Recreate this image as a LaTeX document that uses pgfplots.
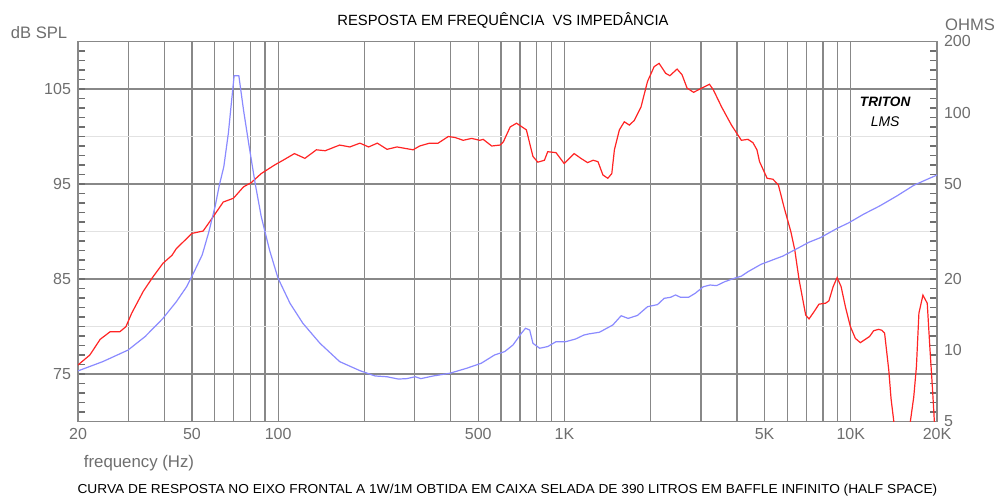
\documentclass[border=0pt]{standalone}
\usepackage{pgfplots}
\pgfplotsset{compat=1.18}
\usepackage{fontspec}
\setmainfont{Liberation Sans}
\definecolor{tickgray}{HTML}{6E6E6E}
\definecolor{gridgray}{HTML}{888888}
\definecolor{lightgrid}{HTML}{E2E2E2}
\definecolor{splred}{HTML}{FF2424}
\definecolor{impblue}{HTML}{8A8AFF}

\pgfplotstableread{
f db
20 75.95
22.0 77.0
23.9 78.65
25.9 79.45
28.0 79.45
29.4 79.98
30.8 81.4
33.8 83.7
36.6 85.25
39.6 86.65
42.6 87.5
44.1 88.2
50.0 89.8
54.7 90.05
59.3 91.55
64.3 93.1
69.8 93.5
75.7 94.7
80.6 95.15
87.3 96.1
97.2 97.0
104 97.5
114 98.2
124 97.7
136 98.6
146 98.5
164 99.1
178 98.9
193 99.3
207 98.9
222 99.3
240 98.65
260 98.9
296 98.6
312 99.0
338 99.3
362 99.3
393 100.0
414 99.9
443 99.6
474 99.8
506 99.6
520 99.7
557 99.0
596 99.1
612 99.45
646 101.0
680 101.4
736 100.7
776 97.9
807 97.3
851 97.5
874 98.4
934 98.3
998 97.15
1081 98.2
1141 97.7
1204 97.25
1259 97.5
1309 97.35
1362 95.95
1417 95.6
1463 96.1
1494 98.6
1555 100.7
1618 101.55
1685 101.2
1754 101.7
1850 103.1
1950 105.8
2056 107.35
2140 107.7
2256 106.65
2334 106.4
2473 107.1
2574 106.5
2679 105.1
2824 104.65
3017 105.1
3208 105.5
3312 104.9
3539 103.1
3830 101.2
4147 99.6
4373 99.7
4551 99.35
4700 98.6
4800 97.35
5102 95.6
5345 95.5
5585 94.9
5858 92.45
6172 90.0
6373 88.05
6598 84.9
6958 81.2
7146 80.8
7437 81.55
7741 82.35
8163 82.45
8384 82.7
8676 84.2
8957 85.15
9247 84.2
9571 82.1
9962 80.0
10370 78.75
10794 78.3
11235 78.65
11630 78.95
12010 79.55
12500 79.7
12840 79.6
13120 79.3
13570 75.4
13820 72.4
14130 70.0
14600 66
15700 66
16140 70.0
16590 72.6
16950 75.8
17290 81.4
17860 83.3
18490 82.45
18910 77.5
19300 73.3
19580 70.0
20000 66
}\spl

\pgfplotstableread{
f z
20 8.17
24.4 8.94
29.9 10.0
34.3 11.4
39.6 13.6
44.1 16.0
47.9 18.5
50.6 21.1
54.3 25.2
57.1 31.1
60.2 40.2
62.3 49.5
64.6 59.3
67.0 82.0
68.8 113
70.2 143.5
72.9 143.5
75.7 102.8
78.9 74.4
83.1 50.5
87.3 36.5
93.3 26.4
99.9 20.1
110 15.75
122 12.97
140 10.68
164 8.94
193 8.19
218 7.78
240 7.72
263 7.55
281 7.58
301 7.72
315 7.58
348 7.78
398 7.99
455 8.38
512 8.80
570 9.54
618 9.85
661 10.51
707 11.77
731 12.36
756 12.15
776 10.68
819 10.18
874 10.35
934 10.85
1010 10.85
1094 11.14
1168 11.57
1216 11.7
1324 11.89
1475 12.76
1577 13.96
1668 13.6
1798 14.0
1950 15.24
2112 15.55
2229 16.53
2350 16.7
2442 17.08
2541 16.7
2714 16.7
2862 17.36
3055 18.5
3225 18.81
3398 18.7
3630 19.43
3930 20.1
4147 20.5
4373 21.4
4860 23.0
5785 24.9
6424 26.6
7146 28.5
7838 29.8
8957 32.6
9834 34.4
11080 37.4
12650 40.6
14460 44.6
16590 49.5
18490 52.5
20000 54.7
}\imp

\begin{document}
\begin{tikzpicture}[x=1pt,y=1pt]
\useasboundingbox (0,0) rectangle (498.5,249);
\begin{axis}[
  at={(39pt,38.25pt)}, anchor=south west,
  scale only axis, width=429.5pt, height=190pt,
  xmode=log, xmin=20, xmax=20000, ymin=70, ymax=110,
  xtick={20,50,100,500,1000,5000,10000,20000},
  xticklabels={20,50,100,500,1K,5K,10K,20K},
  minor xtick={30,40,60,70,80,90,200,300,400,600,700,800,900,2000,3000,4000,6000,7000,8000,9000},
  ytick={75,85,95,105},
  minor ytick={70,71,...,110},
  ytick pos=both, yticklabel pos=left,
  xtick pos=bottom,
  tick align=inside,
  major tick length=3.5pt, minor tick length=3.5pt,
  tick style={tickgray, line width=0.6pt},
  xtick style={draw=none},
  xmajorgrids, xminorgrids, ymajorgrids,
  major grid style={gridgray, line width=0.65pt},
  minor grid style={gridgray, line width=0.65pt},
  extra y ticks={80,90,100}, extra y tick labels={},
  extra y tick style={grid=major, major grid style={lightgrid, line width=0.7pt}},
  axis line style={gridgray, line width=0.75pt},
  tick label style={font=\fontsize{8}{9}\selectfont, text=tickgray},
  /pgf/number format/assume math mode=true,
  clip=true,
]
\addplot[splred, line width=0.6pt] table[x=f, y=db] {\spl};
\node[font=\bfseries\itshape\fontsize{6.8}{7}\selectfont] at (axis cs:13180,103.6) {TRITON};
\node[font=\itshape\fontsize{7}{8}\selectfont] at (axis cs:13180,101.6) {LMS};
\end{axis}
\begin{axis}[
  at={(39pt,38.25pt)}, anchor=south west,
  scale only axis, width=429.5pt, height=190pt,
  xmode=log, ymode=log, xmin=20, xmax=20000, ymin=5, ymax=200,
  hide x axis, axis y line*=right,
  y axis line style={draw=none},
  ytick={5,10,20,50,100,200},
  yticklabels={5,10,20,50,100,200},
  ytick style={draw=none},
  minor ytick={},
  tick label style={font=\fontsize{8}{9}\selectfont, text=tickgray},
  /pgf/number format/assume math mode=true,
  clip=true,
]
\addplot[impblue, line width=0.6pt] table[x=f, y=z] {\imp};
\end{axis}
\node[font=\fontsize{7.4}{8}\selectfont] at (251.5,239) {RESPOSTA EM FREQUÊNCIA\ \ VS IMPEDÂNCIA};
\node[font=\fontsize{8.3}{9}\selectfont, text=tickgray] at (19.5,232.5) {dB SPL};
\node[font=\fontsize{8.3}{9}\selectfont, text=tickgray] at (485,236.5) {OHMS};
\node[font=\fontsize{8.4}{9}\selectfont, text=tickgray] at (69.5,17.5) {frequency (Hz)};
\node[font=\fontsize{6.5}{7}\selectfont, xscale=1.055] at (253.7,4) {CURVA DE RESPOSTA NO EIXO FRONTAL A 1W/1M OBTIDA EM CAIXA SELADA DE 390 LITROS EM BAFFLE INFINITO (HALF SPACE)};
\end{tikzpicture}
\end{document}
